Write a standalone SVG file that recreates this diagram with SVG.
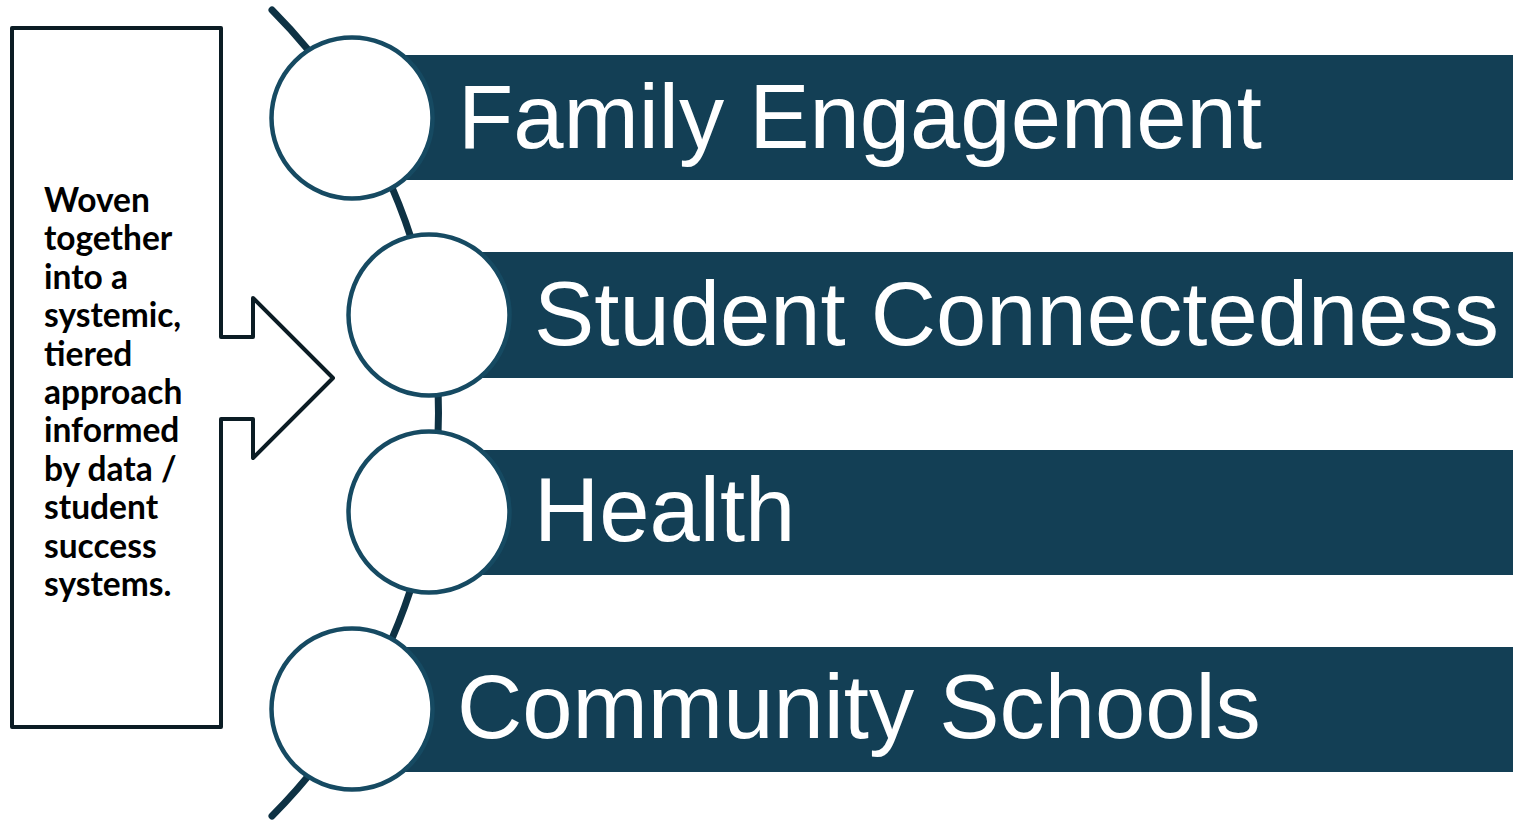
<svg xmlns="http://www.w3.org/2000/svg" width="1513" height="823" viewBox="0 0 1513 823">
  <style>
    .bar { fill: #133f55; }
    .ring { fill: #ffffff; stroke: #164a62; stroke-width: 4.5; }
    .spine { fill: none; stroke: #0e3244; stroke-width: 7; stroke-linecap: round; }
    .callout { fill: #ffffff; stroke: #0b1c24; stroke-width: 4; stroke-linejoin: round; }
    .label { fill: #ffffff; font-family: "Liberation Sans", Arial, sans-serif; font-size: 90.4px; }
    .note { fill: #000000; font-family: Lato, "Open Sans", sans-serif; font-weight: 700; font-size: 33.5px; }
  </style>
  <rect width="1513" height="823" fill="#ffffff"/>

  <!-- callout box with arrow pointing right -->
  <g id="callout">
    <path class="callout" d="M12,28 H221 V337 H253 V298 L333,378 L253,458 V419 H221 V727 H12 Z"/>
    <text class="note" x="44">
      <tspan x="44" y="212">Woven</tspan>
      <tspan x="44" y="250.4">together</tspan>
      <tspan x="44" y="288.8">into a</tspan>
      <tspan x="44" y="327.2">systemic,</tspan>
      <tspan x="44" y="365.6">tiered</tspan>
      <tspan x="44" y="404">approach</tspan>
      <tspan x="44" y="442.4">informed</tspan>
      <tspan x="44" y="480.8">by data /</tspan>
      <tspan x="44" y="519.2">student</tspan>
      <tspan x="44" y="557.6">success</tspan>
      <tspan x="44" y="596">systems.</tspan>
    </text>
  </g>

  <!-- curved spine linking the four items -->
  <g id="connectors">
    <path class="spine" d="M272,10 A571,571 0 0 1 272,816"/>
  </g>

  <g id="family-engagement">
    <rect class="bar" x="352" y="55" width="1161" height="125"/>
    <circle class="ring" cx="352" cy="118" r="80.5"/>
    <text class="label" x="458" y="148">Family Engagement</text>
  </g>

  <g id="student-connectedness">
    <rect class="bar" x="429" y="252" width="1084" height="126"/>
    <circle class="ring" cx="429" cy="315" r="80.5"/>
    <text class="label" x="534" y="345">Student Connectedness</text>
  </g>

  <g id="health">
    <rect class="bar" x="429" y="450" width="1084" height="125"/>
    <circle class="ring" cx="429" cy="512" r="80.5"/>
    <text class="label" x="534" y="541">Health</text>
  </g>

  <g id="community-schools">
    <rect class="bar" x="352" y="647" width="1161" height="125"/>
    <circle class="ring" cx="352" cy="709" r="80.5"/>
    <text class="label" x="457" y="738">Community Schools</text>
  </g>
</svg>
